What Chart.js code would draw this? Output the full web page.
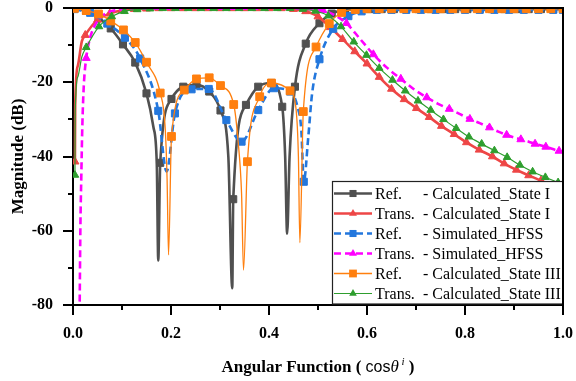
<!DOCTYPE html>
<html>
<head>
<meta charset="utf-8">
<script src="https://cdn.jsdelivr.net/npm/chart.js@4/dist/chart.umd.min.js"></script>
<style>
html, body { margin: 0; padding: 0; background: #fff; }
</style>
</head>
<body>
<canvas id="myChart" width="576" height="381"></canvas>
<script>
// Ref. - Calculated_State I : marked points, then extra points that only shape the curve
var refState1X = [0.003, 0.027, 0.052, 0.077, 0.102, 0.127, 0.150, 0.178, 0.201, 0.225, 0.252, 0.278, 0.301, 0.327, 0.353, 0.378, 0.405, 0.427, 0.453, 0.475, 0.503, 0.528, 0.555, 0.580,
                  0.605, 0.630, 0.655, 0.680, 0.705, 0.730, 0.755, 0.780, 0.805, 0.830, 0.855, 0.880, 0.905, 0.930, 0.955, 0.980, 1.000];
var refState1Y = [-0.1, -0.8, -2.6, -5.5, -9.8, -14.7, -23.0, -41.7, -24.5, -21.2, -20.7, -22.5, -27.6, -51.5, -26.1, -21.2, -20.2, -26.6, -21.2, -9.6, -4.1, -1.5, -0.6, -0.4,
                  -0.3, -0.3, -0.3, -0.3, -0.3, -0.3, -0.3, -0.3, -0.3, -0.3, -0.3, -0.3, -0.3, -0.3, -0.3, -0.3, -0.3];
var refState1CurveX = [0.164, 0.171, 0.174, 0.317, 0.325, 0.433, 0.437, 0.442];
var refState1CurveY = [-32.0, -42.0, -68.0, -40.0, -75.5, -40.0, -60.8, -40.0];

// Trans. - Calculated_State I
var transState1X = [0.004, 0.025, 0.050, 0.075, 0.100, 0.125, 0.150, 0.175, 0.200, 0.225, 0.250, 0.275, 0.300, 0.325, 0.350, 0.375, 0.400, 0.425,
                    0.450, 0.475, 0.500, 0.525, 0.550, 0.575, 0.600, 0.625, 0.650, 0.676, 0.701, 0.727, 0.752, 0.778, 0.803, 0.829, 0.856, 0.880, 0.905, 0.930, 0.955, 0.980, 1.000];
var transState1Y = [-41.4, -7.3, -3.2, -1.5, -0.6, -0.3, -0.2, -0.1, -0.1, -0.1, -0.1, -0.1, -0.1, -0.1, -0.1, -0.1, -0.1, -0.1,
                    -0.3, -0.9, -2.3, -5.2, -8.4, -11.7, -15.0, -18.6, -21.8, -24.6, -27.0, -29.4, -31.8, -34.0, -36.2, -38.2, -40.0, -41.9, -43.6, -45.1, -46.5, -47.8, -48.8];
var transState1CurveX = [0.0045, 0.010, 0.018];
var transState1CurveY = [-26.0, -15.5, -9.0];

// Ref. - Simulated_HFSS
var refHfssX = [0.003, 0.035, 0.070, 0.106, 0.137, 0.174, 0.208, 0.242, 0.277, 0.313, 0.344, 0.378, 0.410, 0.443, 0.471, 0.503, 0.531, 0.562, 0.589,
                0.620, 0.650, 0.680, 0.710, 0.740, 0.770, 0.800, 0.830, 0.860, 0.890, 0.920, 0.950, 0.980, 1.000];
var refHfssY = [-0.3, -1.3, -4.2, -8.0, -13.6, -27.7, -28.4, -21.9, -21.8, -30.2, -36.0, -27.5, -21.6, -22.5, -46.8, -13.8, -5.6, -2.2, -0.9,
                -0.5, -0.5, -0.5, -0.5, -0.5, -0.5, -0.5, -0.5, -0.5, -0.5, -0.5, -0.5, -0.5, -0.5];
var refHfssCurveX = [0.191, 0.458, 0.466, 0.480, 0.488];
var refHfssCurveY = [-44.0, -26.5, -33.0, -35.0, -23.0];

// Trans. - Simulated_HFSS
var transHfssX = [0.027, 0.510, 0.558, 0.613, 0.669, 0.722, 0.768, 0.810, 0.850, 0.885, 0.914, 0.943, 0.965, 0.992];
var transHfssY = [-13.5, -0.6, -4.1, -12.5, -19.1, -24.1, -27.2, -29.9, -32.2, -34.2, -35.4, -36.6, -37.4, -38.5];
var transHfssCurveX = [0.0135, 0.015, 0.017, 0.019, 0.022, 0.035, 0.050, 0.070, 0.100, 0.150, 0.250, 0.350, 0.450, 0.490,
                       0.535, 0.585, 0.640, 0.695, 0.745, 0.790, 0.830, 0.868, 0.930, 1.000];
var transHfssCurveY = [-82.0, -60.0, -45.0, -32.0, -21.0, -8.0, -3.5, -1.3, -0.4, -0.2, -0.2, -0.2, -0.2, -0.3,
                       -2.0, -8.2, -16.0, -21.8, -25.8, -28.6, -31.0, -33.3, -36.0, -38.7];

// Ref. - Calculated_State III
var refState3X = [0.003, 0.027, 0.052, 0.077, 0.103, 0.127, 0.150, 0.178, 0.201, 0.227, 0.252, 0.278, 0.301, 0.328, 0.356, 0.381, 0.405, 0.443, 0.470, 0.496, 0.523, 0.548, 0.576,
                  0.600, 0.625, 0.650, 0.675, 0.700, 0.725, 0.750, 0.775, 0.800, 0.825, 0.850, 0.875, 0.900, 0.925, 0.950, 0.975, 1.000];
var refState3Y = [-0.1, -0.7, -1.6, -3.5, -5.9, -9.3, -14.6, -22.9, -34.6, -22.1, -19.1, -18.8, -20.9, -26.0, -41.4, -23.9, -20.2, -22.3, -27.9, -10.5, -4.2, -1.2, -0.4,
                  -0.2, -0.2, -0.2, -0.2, -0.2, -0.2, -0.2, -0.2, -0.2, -0.2, -0.2, -0.2, -0.2, -0.2, -0.2, -0.2, -0.2];
var refState3CurveX = [0.188, 0.192, 0.195, 0.337, 0.344, 0.348, 0.455, 0.460, 0.463];
var refState3CurveY = [-32.0, -46.0, -66.5, -36.0, -50.0, -70.6, -27.0, -40.0, -63.2];

// Trans. - Calculated_State III
var transState3X = [0.004, 0.027, 0.053, 0.079, 0.105, 0.131, 0.157, 0.183, 0.209, 0.235, 0.261, 0.287, 0.313, 0.339, 0.365, 0.391, 0.417, 0.443,
                    0.469, 0.495, 0.521, 0.547, 0.573, 0.599, 0.625, 0.652, 0.678, 0.704, 0.730, 0.756, 0.782, 0.808, 0.834, 0.860, 0.886, 0.912, 0.938, 0.964, 0.990];
var transState3Y = [-45.0, -10.6, -5.0, -2.3, -0.9, -0.4, -0.2, -0.1, -0.1, -0.1, -0.1, -0.1, -0.1, -0.1, -0.1, -0.1, -0.1, -0.1,
                    -0.3, -0.8, -2.1, -5.0, -9.1, -12.7, -16.2, -19.4, -22.3, -25.0, -27.5, -30.0, -32.4, -34.7, -36.6, -38.4, -40.2, -42.3, -44.1, -45.6, -47.0];
var transState3CurveX = [0.0045, 0.010, 0.018];
var transState3CurveY = [-28.0, -18.5, -13.2];

// merge marked points and curve-only points, sorted by x
function buildPoints(xs, ys, cxs, cys) {
    var pts = xs.map(function(x, i) { return { x: x, y: ys[i], mark: true }; });
    cxs.forEach(function(x, i) { pts.push({ x: x, y: cys[i], mark: false }); });
    pts.sort(function(a, b) { return a.x - b.x; });
    return pts;
}

var seriesList = [
    { kind: 'Ref.',   note: '- Calculated_State I',   color: '#505050', width: 2.6, dash: [],     shape: 'rect',     size: 5.0, order: 6,
      pts: buildPoints(refState1X, refState1Y, refState1CurveX, refState1CurveY) },
    { kind: 'Trans.', note: '- Calculated_State I',   color: '#ee4646', width: 2.6, dash: [],     shape: 'triangle', size: 4.6, order: 5,
      pts: buildPoints(transState1X, transState1Y, transState1CurveX, transState1CurveY) },
    { kind: 'Ref.',   note: '- Simulated_HFSS',       color: '#2377dd', width: 2.6, dash: [7, 4], shape: 'rect',     size: 5.0, order: 4,
      pts: buildPoints(refHfssX, refHfssY, refHfssCurveX, refHfssCurveY) },
    { kind: 'Trans.', note: '- Simulated_HFSS',       color: '#ff00ff', width: 2.6, dash: [7, 4], shape: 'triangle', size: 4.6, order: 3,
      pts: buildPoints(transHfssX, transHfssY, transHfssCurveX, transHfssCurveY) },
    { kind: 'Ref.',   note: '- Calculated_State III', color: '#ff7f0e', width: 1.3, dash: [],     shape: 'rect',     size: 5.5, order: 2,
      pts: buildPoints(refState3X, refState3Y, refState3CurveX, refState3CurveY) },
    { kind: 'Trans.', note: '- Calculated_State III', color: '#2e9e2e', width: 1.2, dash: [],     shape: 'triangle', size: 4.4, order: 1,
      pts: buildPoints(transState3X, transState3Y, transState3CurveX, transState3CurveY) }
];

var datasets = seriesList.map(function(s) {
    return {
        label: s.kind + ' ' + s.note,
        data: s.pts,
        order: s.order,
        borderColor: s.color,
        backgroundColor: s.color,
        borderWidth: s.width,
        borderDash: s.dash,
        cubicInterpolationMode: 'monotone',
        pointStyle: s.shape,
        pointRadius: function(ctx) { return ctx.raw && ctx.raw.mark ? s.size : 0; },
        pointBorderWidth: 1,
        pointBorderColor: s.color,
        pointBackgroundColor: s.color
    };
});

var serif = "'Liberation Serif', 'Times New Roman', serif";

function drawMarker(ctx, shape, x, y, r) {
    ctx.beginPath();
    if (shape === 'rect') {
        var h = r * Math.SQRT1_2;
        ctx.rect(x - h, y - h, 2 * h, 2 * h);
    } else {
        ctx.moveTo(x, y - r);
        ctx.lineTo(x + r * 0.866, y + r * 0.5);
        ctx.lineTo(x - r * 0.866, y + r * 0.5);
        ctx.closePath();
    }
    ctx.fill();
}

// boxed legend in the lower right corner of the plot
var legendBox = {
    id: 'legendBox',
    afterDatasetsDraw: function(chart) {
        var ctx = chart.ctx, a = chart.chartArea;
        var left = a.right - 231, top = a.bottom - 124, bottom = a.bottom - 1;
        ctx.save();
        ctx.fillStyle = '#fff';
        ctx.fillRect(left, top, a.right - left, bottom - top);
        ctx.strokeStyle = '#222';
        ctx.lineWidth = 1.2;
        ctx.strokeRect(left + 0.5, top + 0.5, a.right - left - 0.5, bottom - top - 0.5);
        ctx.font = '16px ' + serif;
        ctx.textBaseline = 'middle';
        seriesList.forEach(function(s, i) {
            var y = top + 12.5 + i * 20;
            ctx.strokeStyle = s.color;
            ctx.fillStyle = s.color;
            ctx.lineWidth = s.width;
            ctx.setLineDash(s.dash);
            ctx.beginPath();
            ctx.moveTo(left + 2, y);
            ctx.lineTo(left + 40, y);
            ctx.stroke();
            ctx.setLineDash([]);
            drawMarker(ctx, s.shape, left + 21, y, s.size);
            ctx.fillStyle = '#000';
            ctx.fillText(s.kind, left + 43, y + 1);
            ctx.fillText(s.note, left + 91, y + 1);
        });
        ctx.restore();
    }
};

// frame, outward major/minor ticks and axis titles
var frameAndTitles = {
    id: 'frameAndTitles',
    afterDraw: function(chart) {
        var ctx = chart.ctx, a = chart.chartArea;
        var xs = chart.scales.x, ys = chart.scales.y;
        ctx.save();
        ctx.strokeStyle = '#000';
        ctx.lineWidth = 2;
        ctx.beginPath();
        ctx.moveTo(a.left, a.top);
        ctx.lineTo(a.right, a.top);
        ctx.lineTo(a.right, a.bottom);
        ctx.stroke();

        ctx.beginPath();
        xs.ticks.forEach(function(t) {
            var px = Math.round(xs.getPixelForValue(t.value));
            ctx.moveTo(px, a.bottom);
            ctx.lineTo(px, a.bottom + (t.label ? 10 : 5));
        });
        ys.ticks.forEach(function(t) {
            var py = Math.round(ys.getPixelForValue(t.value));
            ctx.moveTo(a.left, py);
            ctx.lineTo(a.left - (t.label ? 10 : 5), py);
        });
        ctx.stroke();

        ctx.fillStyle = '#000';
        // y title
        ctx.save();
        ctx.translate(19, (a.top + a.bottom) / 2);
        ctx.rotate(-Math.PI / 2);
        ctx.font = 'bold 17px ' + serif;
        ctx.textAlign = 'center';
        ctx.textBaseline = 'middle';
        ctx.fillText('Magnitude (dB)', 0, 0);
        ctx.restore();

        // x title with cos θ^i
        var parts = [
            { text: 'Angular Function ( ', font: 'bold 17px ' + serif, dy: 0 },
            { text: 'cos', font: "16px 'Liberation Sans', Arial, sans-serif", dy: 0 },
            { text: '\u03b8', font: 'italic 17px ' + serif, dy: 0 },
            { text: ' i', font: 'italic 11px ' + serif, dy: -7 },
            { text: ' )', font: 'bold 17px ' + serif, dy: 0 }
        ];
        var total = 0;
        parts.forEach(function(p) { ctx.font = p.font; p.w = ctx.measureText(p.text).width; total += p.w; });
        var x = (a.left + a.right) / 2 - total / 2, base = 372;
        ctx.textBaseline = 'alphabetic';
        ctx.textAlign = 'left';
        parts.forEach(function(p) {
            ctx.font = p.font;
            ctx.fillText(p.text, x, base + p.dy);
            x += p.w;
        });
        ctx.restore();
    }
};

var tickFont = { family: serif, size: 16, weight: 'bold', lineHeight: 1 };

var myChart = new Chart(document.getElementById('myChart'), {
    type: 'line',
    data: { datasets: datasets },
    options: {
        responsive: false,
        animation: false,
        devicePixelRatio: 1,
        layout: { padding: { top: 8, right: 13, left: 0, bottom: 0 }, autoPadding: false },
        plugins: { legend: { display: false }, tooltip: { enabled: false } },
        scales: {
            x: {
                type: 'linear',
                min: 0,
                max: 1,
                afterFit: function(scale) {
                    scale.height = 76;
                    scale.paddingLeft = 0;
                    scale.paddingRight = 0;
                },
                ticks: {
                    stepSize: 0.1,
                    autoSkip: false,
                    maxRotation: 0,
                    padding: 21,
                    color: '#000',
                    font: tickFont,
                    callback: function(value) {
                        var k = Math.round(value * 10);
                        return k % 2 === 0 ? (k / 10).toFixed(1) : '';
                    }
                },
                grid: { drawOnChartArea: false, drawTicks: false },
                border: { color: '#000', width: 2 }
            },
            y: {
                type: 'linear',
                min: -80,
                max: 0,
                afterFit: function(scale) {
                    scale.width = 73;
                    scale.paddingTop = 0;
                    scale.paddingBottom = 0;
                },
                ticks: {
                    stepSize: 10,
                    autoSkip: false,
                    padding: 20,
                    color: '#000',
                    font: tickFont,
                    callback: function(value) { return value % 20 === 0 ? String(value) : ''; }
                },
                grid: { drawOnChartArea: false, drawTicks: false },
                border: { color: '#000', width: 2 }
            }
        }
    },
    plugins: [legendBox, frameAndTitles]
});
</script>
</body>
</html>
